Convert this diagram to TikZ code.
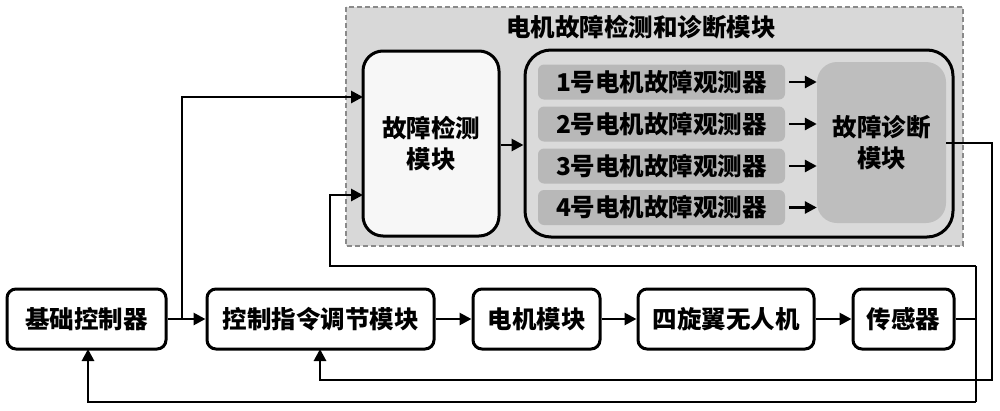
\documentclass[tikz,border=0pt]{standalone}
\usepackage{fontspec}
\newfontfamily\cjk{Noto Sans CJK SC}
\usetikzlibrary{arrows.meta}
\definecolor{bgGray}{HTML}{D8D8D8}
\definecolor{bigGray}{HTML}{DADADA}
\definecolor{obsGray}{HTML}{B8B8B8}
\definecolor{diagGray}{HTML}{BEBEBE}
\definecolor{dashGray}{HTML}{8A8A8A}
\tikzset{
  txt/.style={font=\cjk\bfseries\fontsize{24.5}{31}\selectfont, align=center, inner sep=0pt},
  blockbox/.style={txt, draw=black, line width=3pt, fill=white, rounded corners=9pt},
  obsbox/.style={txt, fill=obsGray, rounded corners=6pt, minimum width=247pt, minimum height=35pt},
  arr/.style={line width=2.8pt, -{Triangle[length=12pt,width=12pt]}},
  ln/.style={line width=2.8pt},
}
\begin{document}
\begin{tikzpicture}[x=1pt,y=-1pt]
\useasboundingbox (0,0) rectangle (1000,410);
% outer dashed module
\draw[fill=bgGray, draw=dashGray, line width=1.4pt, dash pattern=on 5pt off 3pt] (346,7) rectangle (963,246);
\node[txt] (title) at (641,27) {电机故障检测和诊断模块};
% fault detection
\node[txt, draw=black, line width=3pt, fill=white!97!black, rounded corners=20pt,
      minimum width=136pt, minimum height=185pt] (det) at (431,143.5) {故障检测\\模块};
% big container
\node[draw=black, line width=3pt, fill=bigGray, rounded corners=26pt,
      minimum width=428pt, minimum height=187pt, inner sep=0pt] (big) at (739,143.5) {};
% observers
\node[obsbox] (o1) at (661.5,82) {1号电机故障观测器};
\node[obsbox] (o2) at (661.5,124) {2号电机故障观测器};
\node[obsbox] (o3) at (661.5,166) {3号电机故障观测器};
\node[obsbox] (o4) at (661.5,207.5) {4号电机故障观测器};
% diagnosis
\node[txt, fill=diagGray, rounded corners=20pt, minimum width=129pt, minimum height=161pt] (diag) at (881.5,142.5) {故障诊断\\模块};
% bottom row
\node[blockbox, minimum width=159pt, minimum height=60pt] (base) at (86.5,319) {基础控制器};
\node[blockbox, minimum width=227pt, minimum height=60pt] (cmd) at (320.5,319) {控制指令调节模块};
\node[blockbox, minimum width=127pt, minimum height=60pt] (motor) at (536.5,319) {电机模块};
\node[blockbox, minimum width=176pt, minimum height=60pt] (uav) at (726,319) {四旋翼无人机};
\node[blockbox, minimum width=101pt, minimum height=60pt] (sensor) at (903.5,319) {传感器};
% helper coordinates
\coordinate (j1) at (182,319);
\coordinate (d1) at (363,97);
\coordinate (d2) at (363,195);
\coordinate (js) at (976,319);
\coordinate (diagout) at (946,143);
% arrows
\draw[arr] (base.east) -- (cmd.west);
\draw[arr] (cmd.east) -- (motor.west);
\draw[arr] (motor.east) -- (uav.west);
\draw[arr] (uav.east) -- (sensor.west);
\draw[arr] (j1) |- (d1);
\draw[arr] (det.east |- 0,145) -- (big.west |- 0,145);
\foreach \o in {o1,o2,o3,o4}{
  \draw[arr, shorten <=4pt] (\o.east) -- (diag.west |- \o.east);
}
% sensor feedback
\draw[ln] (sensor.east) -- (js);
\draw[ln] (976,266) -- (976,402);
\draw[arr] (976,266) -- (330,266) -- (330,195) -- (d2);
\draw[arr] (976,402) -- (88,402) -- (88,349);
% diagnosis output to command module
\draw[arr] (diagout) -- (992,143) -- (992,380) -- (320,380) -- (320,349);
\end{tikzpicture}
\end{document}
